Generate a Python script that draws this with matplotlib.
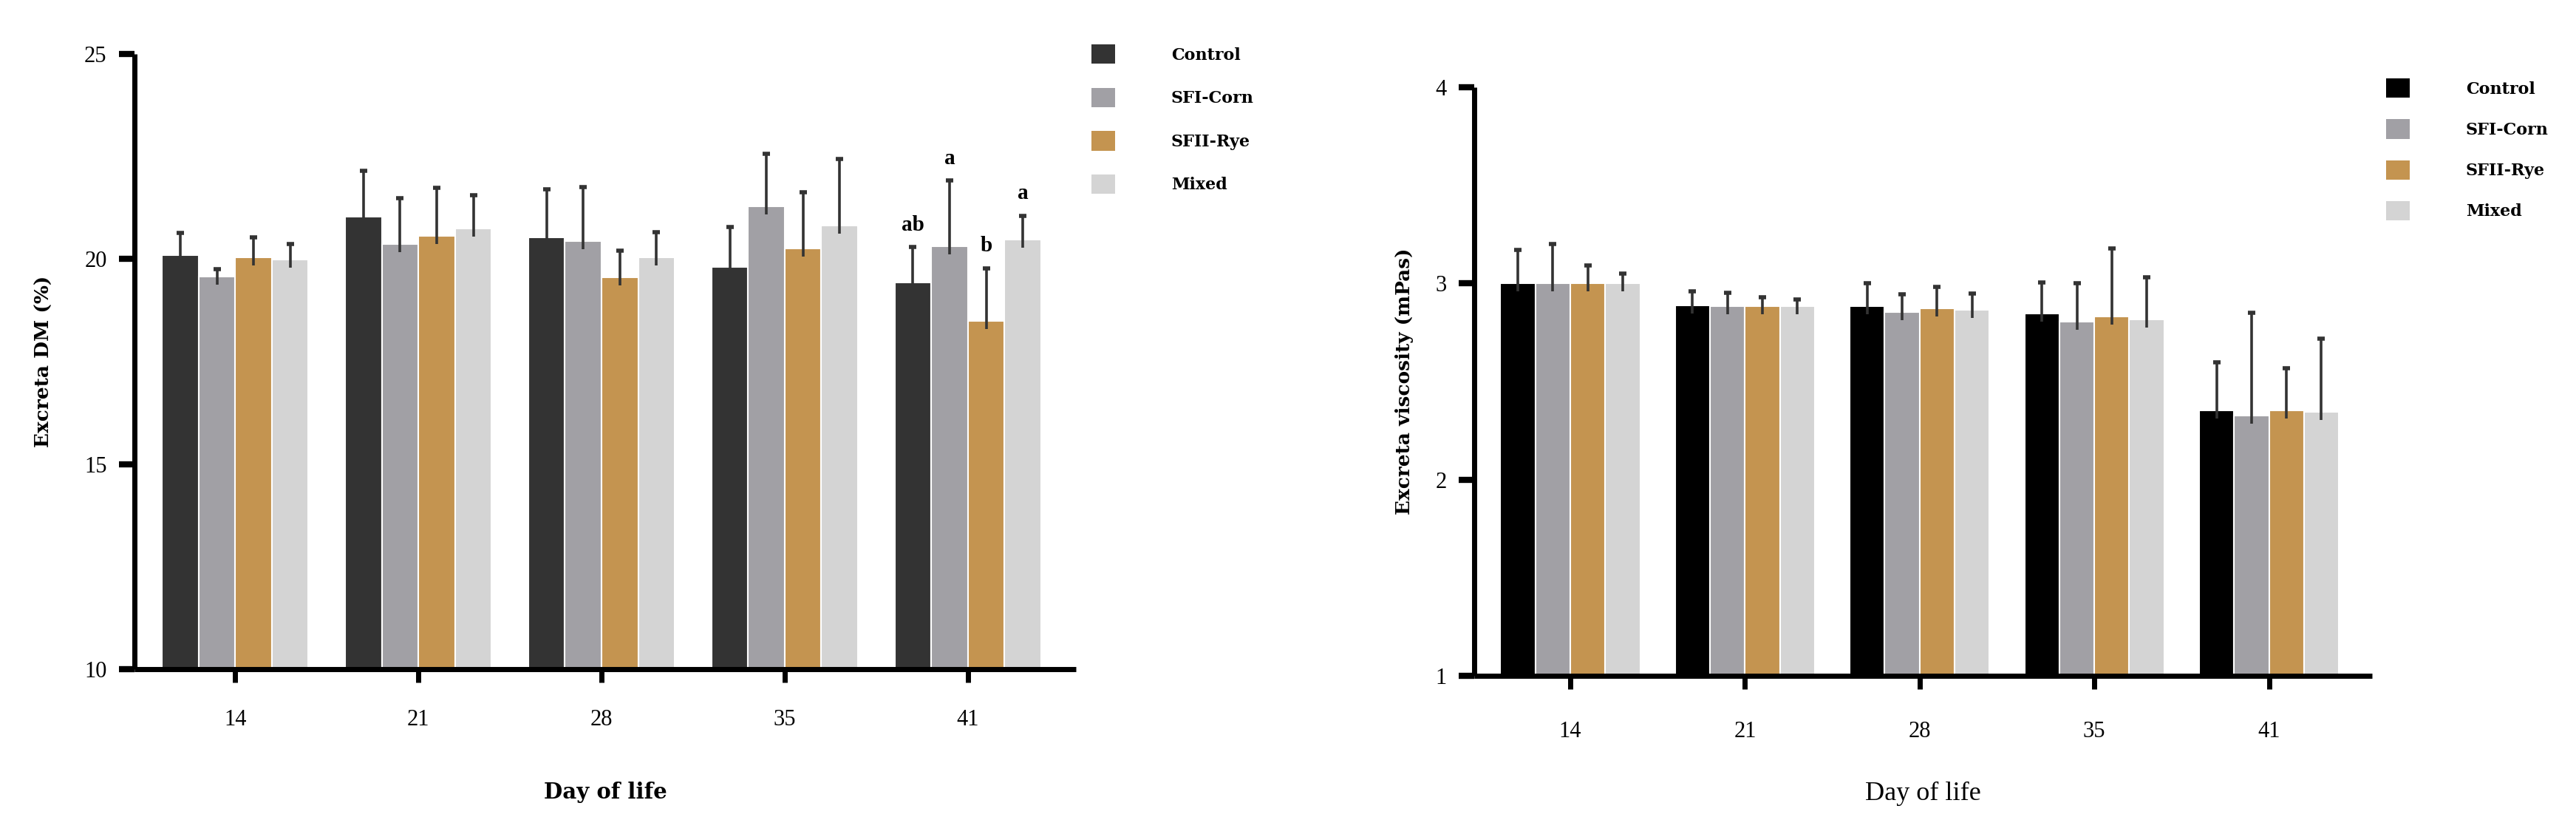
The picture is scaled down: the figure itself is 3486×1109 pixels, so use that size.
import matplotlib
matplotlib.use("Agg")
import matplotlib.pyplot as plt
import numpy as np
from matplotlib.lines import Line2D
from matplotlib.patches import Patch

# ---------------- data ----------------
days = ["14", "21", "28", "35", "41"]
groups = ["Control", "SFI-Corn", "SFII-Rye", "Mixed"]

dm_control = [20.09, 21.03, 20.52, 19.80, 19.43]
dm_corn = [19.58, 20.37, 20.44, 21.29, 20.31]
dm_rye = [20.05, 20.57, 19.56, 20.26, 18.50]
dm_mixed = [19.99, 20.75, 20.05, 20.82, 20.48]
dm_control_err = [0.55, 1.13, 1.18, 0.99, 0.86]
dm_corn_err = [0.17, 1.12, 1.31, 1.28, 1.60]
dm_rye_err = [0.47, 1.16, 0.64, 1.36, 1.27]
dm_mixed_err = [0.38, 0.80, 0.61, 1.62, 0.58]
dm_letters_day41 = ["ab", "a", "b", "a"]

visc_control = [3.00, 2.89, 2.886, 2.847, 2.352]
visc_corn = [3.00, 2.886, 2.855, 2.807, 2.326]
visc_rye = [3.00, 2.886, 2.874, 2.833, 2.352]
visc_mixed = [3.00, 2.886, 2.866, 2.817, 2.344]
visc_control_err = [0.17, 0.07, 0.114, 0.157, 0.245]
visc_corn_err = [0.20, 0.067, 0.088, 0.193, 0.524]
visc_rye_err = [0.09, 0.044, 0.11, 0.347, 0.216]
visc_mixed_err = [0.05, 0.034, 0.084, 0.213, 0.373]

left_yticks = [10, 15, 20, 25]
right_yticks = [1, 2, 3, 4]

# ---------------- style ----------------
W, H, DPI = 3486, 1109, 100
colors_left = ["#333333", "#A1A0A5", "#C49450", "#D4D4D4"]
colors_right = ["#000000", "#A1A0A5", "#C49450", "#D4D4D4"]
err_color = "#333333"
bar_w = 0.2
tick_font = "Liberation Serif"
bold_font = "DejaVu Serif"

fig = plt.figure(figsize=(W / DPI, H / DPI), dpi=DPI)


def px(x0, y_top, x1, y_bot):
    return [x0 / W, 1 - y_bot / H, (x1 - x0) / W, (y_bot - y_top) / H]


def style_axes(ax, ylim, yticks, ylabel, ylabel_x, xpad, xlabel_kw):
    ax.set_xlim(-0.55, 4.59)
    ax.set_ylim(*ylim)
    for s in ["top", "right"]:
        ax.spines[s].set_visible(False)
    for s in ["left", "bottom"]:
        ax.spines[s].set_linewidth(5)
        ax.spines[s].set_capstyle("butt")
    ax.set_yticks(yticks)
    ax.set_yticklabels([str(t) for t in yticks], fontfamily=tick_font, fontsize=22)
    ax.set_xticks(np.arange(len(days)))
    ax.set_xticklabels(days, fontfamily=tick_font, fontsize=22)
    ax.tick_params(axis="y", length=15, width=6, pad=12, direction="out")
    ax.tick_params(axis="x", length=13, width=5, pad=xpad, direction="out")
    # extend x axis line left under the bottom y tick
    ax.add_line(Line2D([-0.016, 0], [0, 0], transform=ax.transAxes, color="black",
                       linewidth=5, clip_on=False, solid_capstyle="butt"))
    ax.set_ylabel(ylabel, fontfamily=bold_font, fontweight="bold", fontsize=19, va="center")
    ax.yaxis.set_label_coords(ylabel_x, 0.5)
    ax.set_xlabel("Day of life", va="center", **xlabel_kw)
    ax.xaxis.set_label_coords(0.5, -0.20)


def draw_bars(ax, series, errs, colors, px_per_unit):
    x = np.arange(len(days))
    stem_down = 11 / px_per_unit
    for i, (vals, e, c, lab) in enumerate(zip(series, errs, colors, groups)):
        xi = x + (i - 1.5) * bar_w
        ax.bar(xi, vals, width=bar_w, color=c, edgecolor="white", linewidth=1.5, label=lab, zorder=2)
        vals = np.asarray(vals)
        e = np.asarray(e)
        ax.vlines(xi, vals - stem_down, vals + e, color=err_color, linewidth=2.6, zorder=3)
        ax.plot(xi, vals + e, linestyle="none", marker="_", markersize=7,
                markeredgewidth=4, color=err_color, zorder=3)


# ---------------- left panel ----------------
axL = fig.add_axes(px(182, 73, 1456, 905))
dm_series = [dm_control, dm_corn, dm_rye, dm_mixed]
dm_errs = [dm_control_err, dm_corn_err, dm_rye_err, dm_mixed_err]
draw_bars(axL, dm_series, dm_errs, colors_left, 832 / 15)
style_axes(axL, (10, 25), left_yticks, "Excreta DM (%)", -0.096, 26,
           dict(fontfamily=bold_font, fontweight="bold", fontsize=21))
for i, letter in enumerate(dm_letters_day41):
    xi = 4 + (i - 1.5) * bar_w
    top = dm_series[i][4] + dm_errs[i][4]
    axL.text(xi, top + 0.3, letter, ha="center", va="bottom", fontfamily=tick_font,
             fontweight="bold", fontsize=21)

handles = [Patch(facecolor=c, edgecolor="none") for c in colors_left]
fig.legend(handles, groups, loc="upper left", bbox_to_anchor=(1477 / W, 1 - 60 / H),
           frameon=False, borderpad=0, borderaxespad=0, handlelength=1.45, handleheight=1.45,
           handletextpad=3.4, labelspacing=1.45,
           prop={"family": bold_font, "weight": "bold", "size": 16})

# ---------------- right panel ----------------
axR = fig.add_axes(px(1995, 118, 3210, 914))
v_series = [visc_control, visc_corn, visc_rye, visc_mixed]
v_errs = [visc_control_err, visc_corn_err, visc_rye_err, visc_mixed_err]
draw_bars(axR, v_series, v_errs, colors_right, 796 / 3)
style_axes(axR, (1, 4), right_yticks, "Excreta viscosity (mPas)", -0.078, 31,
           dict(fontfamily=tick_font, fontsize=26))

handles = [Patch(facecolor=c, edgecolor="none") for c in colors_right]
fig.legend(handles, groups, loc="upper left", bbox_to_anchor=(3229 / W, 1 - 106 / H),
           frameon=False, borderpad=0, borderaxespad=0, handlelength=1.45, handleheight=1.45,
           handletextpad=3.4, labelspacing=1.3,
           prop={"family": bold_font, "weight": "bold", "size": 16})

fig.savefig("out.png", dpi=DPI, facecolor="white")
